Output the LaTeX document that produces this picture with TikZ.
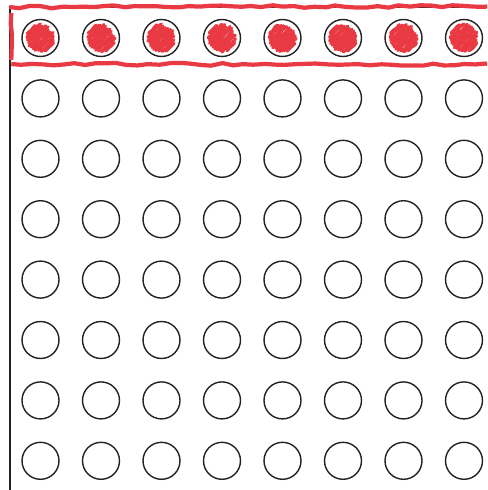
\documentclass[tikz,border=0pt]{standalone}
\usetikzlibrary{calc, decorations.pathmorphing}
\definecolor{markerred}{RGB}{233,58,68}
\definecolor{inkgray}{RGB}{34,34,34}

\begin{document}
\begin{tikzpicture}[x=0.02cm, y=-0.02cm,
  dot/.style={circle, draw=inkgray, line width=0.8pt, minimum size=0.74cm, inner sep=0pt},
  scribble/.style={markerred, line width=1.9pt, line cap=round, decorate,
    decoration={random steps, segment length=2.5pt, amplitude=0.5pt}},
  picked/.style={dot, path picture={
    \foreach \t in {-12.5,-10,...,12.5}{
      \pgfmathsetmacro{\lo}{0.707*sqrt(196-\t*\t)*(0.85+0.15*rnd)}
      \pgfmathsetmacro{\hi}{0.707*sqrt(196-\t*\t)*(0.75+0.25*rnd)}
      \draw[scribble]
        ($(path picture bounding box.center)+({0.707*\t-\lo},{0.707*\t+\lo})$) --
        ($(path picture bounding box.center)+({0.707*\t+\hi},{0.707*\t-\hi})$);
    }
  }},
  marker/.style={markerred, line width=2.4pt, decorate,
    decoration={random steps, segment length=6pt, amplitude=0.8pt}},
  frame/.style={inkgray, line width=0.8pt},
]
\pgfmathsetseed{7}
\clip (0,0) rectangle (487,490);

% Frame
\draw[frame] (10,495) -- (10,7) -- (495,7);

% Grid of circles
\foreach \c in {1,...,8}
  \node[picked] (c-1-\c) at ({40.5+60.5*(\c-1)},38) {};
\foreach \r in {2,...,8}
  \foreach \c in {1,...,8}
    \node[dot] (c-\r-\c) at ({40.5+60.5*(\c-1)},{38+60.4*(\r-1)}) {};

% Highlight of the first row
\draw[marker] ($(c-1-1.west)+(-10,-25)$) -- ($(c-1-1.west)+(-10,22)$);
\draw[marker] ($(c-1-1.west)+(-12,-31)$) -- ($(c-1-8.east)+(30,-32)$);
\draw[marker] ($(c-1-1.west)+(-10,26)$) -- ($(c-1-8.east)+(30,27)$);
\end{tikzpicture}
\end{document}
